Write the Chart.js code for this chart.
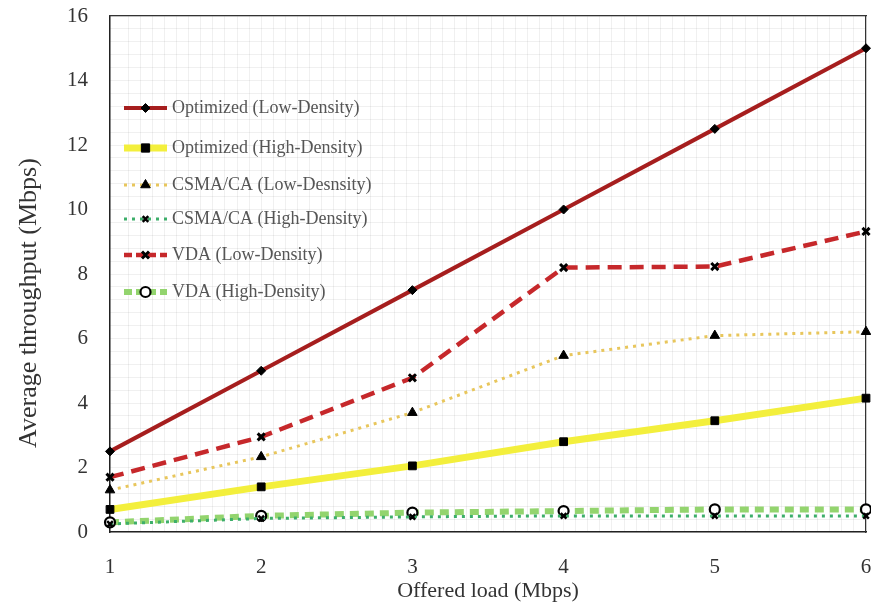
<!DOCTYPE html>
<html>
<head>
<meta charset="utf-8">
<script src="https://cdn.jsdelivr.net/npm/chart.js@4/dist/chart.umd.min.js"></script>
<style>
  html, body { margin: 0; padding: 0; background: #fff; }
  #wrap { width: 871px; height: 616px; position: relative; }
</style>
</head>
<body>
<div id="wrap"><canvas id="c" width="871" height="616"></canvas></div>
<script>
// Offered load (Mbps)
const loads = [1, 2, 3, 4, 5, 6];
const yTicks = [0, 2, 4, 6, 8, 10, 12, 14, 16];

// Average throughput (Mbps) per scheme
const optimizedLow  = [2.5, 5.0, 7.5, 10.0, 12.5, 15.0];
const optimizedHigh = [0.7, 1.4, 2.05, 2.8, 3.45, 4.15];
const csmaLow       = [1.3, 2.33, 3.7, 5.47, 6.09, 6.21];
const csmaHigh      = [0.25, 0.42, 0.47, 0.5, 0.5, 0.5];
const vdaLow        = [1.7, 2.95, 4.78, 8.2, 8.23, 9.32];
const vdaHigh       = [0.3, 0.5, 0.6, 0.65, 0.7, 0.7];

const seriesNames = [
  'Optimized (Low-Density)',
  'Optimized (High-Density)',
  'CSMA/CA (Low-Desnsity)',
  'CSMA/CA (High-Density)',
  'VDA (Low-Density)',
  'VDA (High-Density)'
];

const xTitle = 'Offered load (Mbps)';
const yTitle = 'Average throughput (Mbps)';

const SERIF = "'Liberation Serif', 'DejaVu Serif', serif";

function pts(arr) { return loads.map((x, i) => ({ x: x, y: arr[i] })); }

const styles = [
  { data: optimizedLow,  color: '#a61e1e', width: 4, dash: [],      point: 'rectRot',  r: 4.5, fill: '#000', pbw: 1 },
  { data: optimizedHigh, color: '#f3ef3c', width: 7, dash: [],      point: 'rect',     r: 5.5, fill: '#000', pbw: 1 },
  { data: csmaLow,       color: '#e8c65c', width: 3, dash: [3, 5],  point: 'triangle', r: 5.5, fill: '#000', pbw: 1 },
  { data: csmaHigh,      color: '#3dae6a', width: 3, dash: [3, 5],  point: 'crossRot', r: 4,   fill: '#000', pbw: 2.5 },
  { data: vdaLow,        color: '#c6282b', width: 4.5, dash: [14, 8], point: 'crossRot', r: 5, fill: '#000', pbw: 3 },
  { data: vdaHigh,       color: '#93d46e', width: 6, dash: [9, 6],  point: 'circle',   r: 5,   fill: '#fff', pbw: 2.2 }
];

const datasets = styles.map((s, i) => ({
  label: seriesNames[i],
  data: pts(s.data),
  borderColor: s.color,
  borderWidth: s.width,
  borderDash: s.dash,
  pointStyle: s.point,
  pointRadius: s.r,
  pointBackgroundColor: s.fill,
  pointBorderColor: '#000',
  pointBorderWidth: s.pbw,
  tension: 0,
  fill: false,
  clip: 8
}));

// Marker drawn on each legend sample line
function drawMarker(ctx, s, x, y) {
  ctx.save();
  ctx.fillStyle = s.fill;
  ctx.strokeStyle = '#000';
  ctx.lineWidth = s.pbw;
  ctx.setLineDash([]);
  const r = s.r;
  ctx.beginPath();
  if (s.point === 'rectRot') {
    ctx.moveTo(x, y - r); ctx.lineTo(x + r, y); ctx.lineTo(x, y + r); ctx.lineTo(x - r, y); ctx.closePath();
    ctx.fill(); ctx.stroke();
  } else if (s.point === 'rect') {
    const h = r * 0.75;
    ctx.rect(x - h, y - h, 2 * h, 2 * h); ctx.fill(); ctx.stroke();
  } else if (s.point === 'triangle') {
    ctx.moveTo(x, y - r); ctx.lineTo(x + r * 0.87, y + r * 0.5); ctx.lineTo(x - r * 0.87, y + r * 0.5); ctx.closePath();
    ctx.fill(); ctx.stroke();
  } else if (s.point === 'crossRot') {
    const h = r * 0.7;
    ctx.moveTo(x - h, y - h); ctx.lineTo(x + h, y + h);
    ctx.moveTo(x + h, y - h); ctx.lineTo(x - h, y + h);
    ctx.stroke();
  } else {
    ctx.arc(x, y, r, 0, Math.PI * 2); ctx.fill(); ctx.stroke();
  }
  ctx.restore();
}

// Legend box drawn inside the plot area, upper left
const insetLegend = {
  id: 'insetLegend',
  afterDatasetsDraw(chart) {
    const ctx = chart.ctx;
    const left = chart.chartArea.left;
    const top = chart.chartArea.top;
    const rowOffsets = [92, 132, 169, 203, 239, 276];
    ctx.save();
    styles.forEach((s, i) => {
      const y = top + rowOffsets[i];
      const x0 = left + 14, x1 = left + 57;
      ctx.strokeStyle = s.color;
      ctx.lineWidth = s.width;
      ctx.setLineDash(s.dash.length ? [Math.min(s.dash[0], 8), s.dash[1] > 5 ? 4 : s.dash[1]] : []);
      ctx.beginPath(); ctx.moveTo(x0, y); ctx.lineTo(x1, y); ctx.stroke();
      drawMarker(ctx, s, (x0 + x1) / 2, y);
      ctx.setLineDash([]);
      ctx.fillStyle = '#555';
      ctx.font = '18px ' + SERIF;
      ctx.textBaseline = 'middle';
      ctx.textAlign = 'left';
      ctx.fillText(seriesNames[i], x1 + 5, y);
    });
    ctx.restore();
  }
};

// Rotated y-axis title, sitting a little below the axis midpoint
const yAxisTitle = {
  id: 'yAxisTitle',
  afterDraw(chart) {
    const ctx = chart.ctx;
    const ca = chart.chartArea;
    ctx.save();
    ctx.translate(29, (ca.top + ca.bottom) / 2 + 29);
    ctx.rotate(-Math.PI / 2);
    ctx.fillStyle = '#333';
    ctx.font = '26px ' + SERIF;
    ctx.textAlign = 'center';
    ctx.textBaseline = 'middle';
    ctx.fillText(yTitle, 0, 0);
    ctx.restore();
  }
};

new Chart(document.getElementById('c'), {
  type: 'line',
  data: { datasets: datasets },
  options: {
    responsive: false,
    animation: false,
    layout: { autoPadding: false, padding: { left: 0, right: 5, top: 16, bottom: 0 } },
    plugins: { legend: { display: false }, tooltip: { enabled: false } },
    scales: {
      x: {
        type: 'linear', min: 1, max: 6,
        afterBuildTicks(scale) { scale.ticks = loads.map(v => ({ value: v })); },
        afterFit(scale) { scale.height = 84; scale.paddingLeft = 0; scale.paddingRight = 0; },
        grid: { display: false },
        border: { display: true, color: '#222', width: 1.5 },
        ticks: { color: '#333', font: { family: SERIF, size: 21 }, padding: 15 },
        title: { display: true, text: xTitle, color: '#333', font: { family: SERIF, size: 22 }, padding: { top: 4, bottom: 12 } }
      },
      y: {
        type: 'linear', min: 0, max: 16,
        afterBuildTicks(scale) { scale.ticks = yTicks.map(v => ({ value: v })); },
        afterFit(scale) { scale.width = 110; scale.paddingTop = 0; scale.paddingBottom = 0; },
        grid: { display: false },
        border: { display: true, color: '#222', width: 1.5 },
        ticks: { color: '#333', font: { family: SERIF, size: 21 }, padding: 14 },
        title: { display: false }
      },
      xg: {
        type: 'linear', position: 'top', min: 1, max: 6,
        afterFit(scale) { scale.height = 0; scale.paddingLeft = 0; scale.paddingRight = 0; },
        ticks: { display: false, stepSize: 0.08, autoSkip: false },
        grid: { color: 'rgba(0,0,0,0.06)', drawTicks: false, lineWidth: 1 },
        border: { display: true, color: '#333', width: 1.2 }
      },
      yg: {
        type: 'linear', position: 'right', min: 0, max: 16,
        afterFit(scale) { scale.width = 0; scale.paddingTop = 0; scale.paddingBottom = 0; },
        ticks: { display: false, stepSize: 0.4, autoSkip: false },
        grid: { color: 'rgba(0,0,0,0.06)', drawTicks: false, lineWidth: 1 },
        border: { display: true, color: '#333', width: 1.2 }
      }
    }
  },
  plugins: [insetLegend, yAxisTitle]
});
</script>
</body>
</html>
